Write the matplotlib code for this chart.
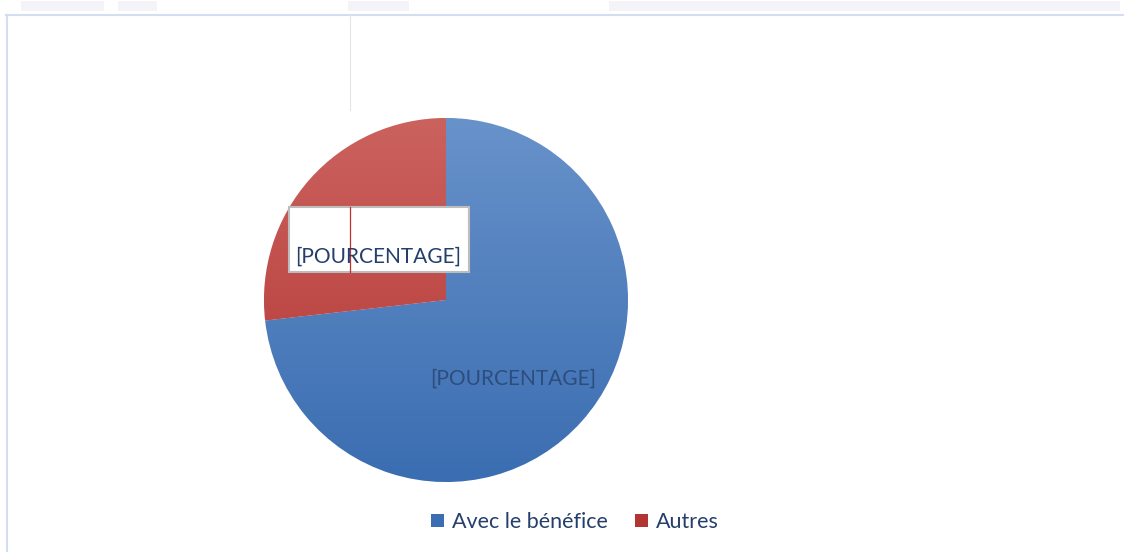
import numpy as np
import matplotlib
matplotlib.use("Agg")
import matplotlib.pyplot as plt
from matplotlib.colors import LinearSegmentedColormap
from matplotlib.patches import Rectangle, Patch

# Données
categories = ["Avec le bénéfice", "Autres"]
valeurs = [73.2, 26.8]
etiquettes = ["[POURCENTAGE]", "[POURCENTAGE]"]

# Couleurs (haut -> bas du dégradé)
degrades = [("#6892CA", "#3A6DB1"), ("#CB625E", "#B33533")]
couleur_texte = "#243F6B"

plt.rcParams["font.family"] = ["Lato", "DejaVu Sans"]

W, H = 1124, 552
fig = plt.figure(figsize=(W / 100, H / 100), dpi=100)
ax = fig.add_axes([0, 0, 1, 1])

cx, cy, r = 446, H - 300, 182
wedges, _ = ax.pie(valeurs, center=(cx, cy), radius=r, startangle=90,
                   counterclock=False, colors=[d[1] for d in degrades],
                   wedgeprops=dict(edgecolor="white", linewidth=0.6))

# dégradé vertical dans chaque part
grad = np.linspace(1, 0, 256).reshape(-1, 1)
for w, (c_haut, c_bas) in zip(wedges, degrades):
    cmap = LinearSegmentedColormap.from_list("g", [c_bas, c_haut])
    im = ax.imshow(grad, cmap=cmap, extent=[cx - r, cx + r, cy - r, cy + r],
                   aspect="auto", zorder=1.5, origin="upper")
    im.set_clip_path(w)

ax.set_xlim(0, W)
ax.set_ylim(0, H)
ax.set_aspect("equal")
ax.axis("off")

# étiquettes de données
for i, w in enumerate(wedges):
    ang = np.deg2rad((w.theta1 + w.theta2) / 2)
    if i == 0:
        tx, ty = cx + 0.56 * r * np.cos(ang) - 9, cy + 0.56 * r * np.sin(ang) - 11
        ax.text(tx, ty, etiquettes[i], ha="center", va="center",
                fontsize=15, color=couleur_texte, alpha=0.75, zorder=4)
    else:
        tx, ty = cx + 0.52 * r * np.cos(ang) + 3, cy + 0.52 * r * np.sin(ang) - 20
        ax.add_patch(Rectangle((tx - 89, ty - 15), 180, 65, facecolor="white",
                               edgecolor="#BDBDBD", linewidth=1.5, zorder=3))
        ax.plot([350, 350], [ty - 15, ty + 50], color="#C0302E", lw=0.9, zorder=3.5)
        ax.text(tx, ty, etiquettes[i], ha="center", va="center",
                fontsize=15, color=couleur_texte, zorder=4)

# bordure / artefacts de capture
ax.plot([6, W], [H - 15, H - 15], color="#D3DFF1", lw=1.5, zorder=0)
ax.plot([7, 7], [0, H - 15], color="#D3DFF1", lw=1.5, zorder=0)
ax.plot([350, 350], [H - 15, H - 110], color="#E2E4EC", lw=0.8, zorder=0)
for x0, x1 in [(21, 104), (118, 157), (348, 409), (609, 1120)]:
    ax.add_patch(Rectangle((x0, H - 11), x1 - x0, 10, facecolor="#F4F4F8",
                           edgecolor="none", zorder=0))

# légende
poignees = [Patch(facecolor=d[1], edgecolor="none") for d in degrades]
fig.legend(poignees, categories, loc="center", bbox_to_anchor=(575 / W, 1 - 522 / H),
           ncol=2, frameon=False, fontsize=15.5, handlelength=0.6, handleheight=0.6,
           handletextpad=0.35, columnspacing=1.3, labelcolor=couleur_texte)

fig.savefig("out.png", dpi=100)
